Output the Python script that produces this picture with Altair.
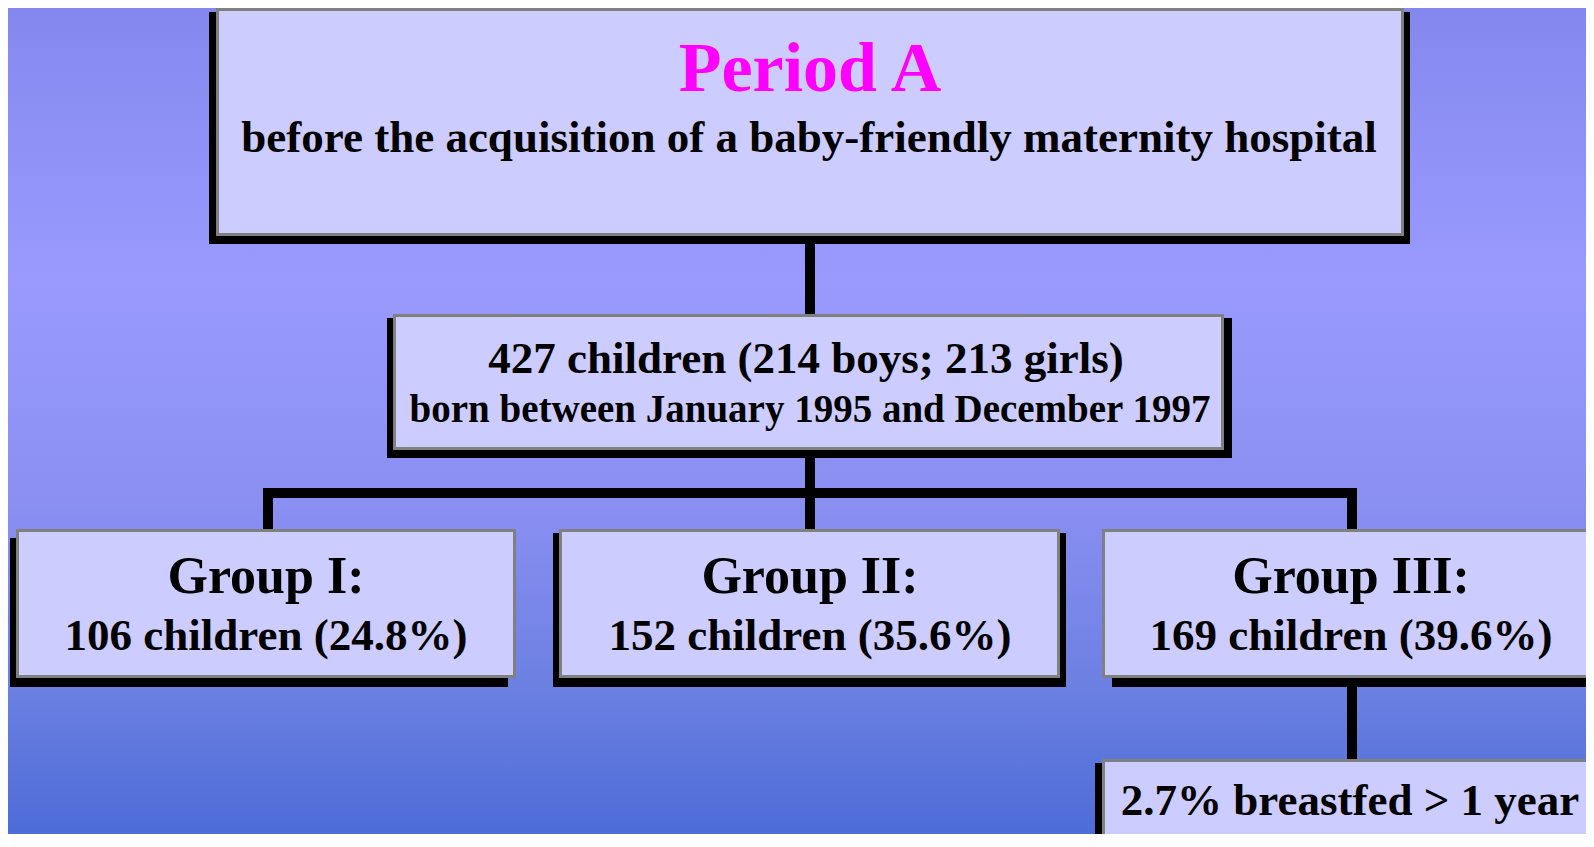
import altair as alt
import pandas as pd

# ---- content (values) ----
period_title = "Period A"
period_subtitle = "before the acquisition of a baby-friendly maternity hospital"
total_children = 427
boys = 214
girls = 213
born_from = "January 1995"
born_to = "December 1997"
group_names = ["Group I:", "Group II:", "Group III:"]
group_counts = [106, 152, 169]
group_pcts = [24.8, 35.6, 39.6]
breastfed_pct = 2.7

# ---- layout (image pixel space, 1594 x 847) ----
W, H = 1578, 826
box_x1 = [216, 393, 16, 559, 1102, 1102]
box_x2 = [1404, 1224, 516, 1060, 1602, 1602]
box_y1 = [8, 314, 529, 529, 529, 759]
box_y2 = [236, 450, 678, 678, 678, 860]
# shadow = box grown/shifted by these amounts
sh_dx1 = [-7, -6, -6, -6, 10, -7]
sh_dx2 = [6, 8, -8, 6, 8, -2]
sh_dy1 = [4, 4, 9, 4, 6, 4]
sh_dy2 = [8, 8, 9, 9, 9, 9]

boxes = pd.DataFrame({"x1": box_x1, "x2": box_x2, "y1": box_y1, "y2": box_y2})
boxes["bx1"] = boxes.x1 + 1.5
boxes["bx2"] = boxes.x2 - 1.5
boxes["by1"] = boxes.y1 + 1.5
boxes["by2"] = boxes.y2 - 1.5
shadows = pd.DataFrame({
    "x1": [a + b for a, b in zip(box_x1, sh_dx1)],
    "x2": [a + b for a, b in zip(box_x2, sh_dx2)],
    "y1": [a + b for a, b in zip(box_y1, sh_dy1)],
    "y2": [a + b for a, b in zip(box_y2, sh_dy2)],
})

conn_x1 = [805, 805, 263, 263, 1347, 1347]
conn_x2 = [815, 815, 1357, 273, 1357, 1357]
conn_y1 = [230, 445, 488, 488, 488, 680]
conn_y2 = [320, 533, 498, 533, 533, 762]
conns = pd.DataFrame({"x1": conn_x1, "x2": conn_x2, "y1": conn_y1, "y2": conn_y2})

texts = [period_title, period_subtitle,
         f"{total_children} children ({boys} boys; {girls} girls)",
         f"born between {born_from} and {born_to}"]
tx = [810, 809, 806, 810]
ty = [91, 152, 373, 422]
ts = [70, 45, 45, 39]
tc = ["#FF00FF", "#000000", "#000000", "#000000"]
gcx = [266, 810, 1351]
for i in range(3):
    texts += [group_names[i], f"{group_counts[i]} children ({group_pcts[i]}%)"]
    tx += [gcx[i], gcx[i]]
    ty += [593, 650]
    ts += [52, 45]
    tc += ["#000000", "#000000"]
texts.append(f"{breastfed_pct}% breastfed > 1 year")
tx.append(1350)
ty.append(815)
ts.append(45)
tc.append("#000000")
labels = pd.DataFrame({"text": texts, "x": tx, "y": ty, "size": ts, "color": tc})

xs = alt.Scale(domain=[8, 8 + W], nice=False, zero=False)
ys = alt.Scale(domain=[8, 8 + H], nice=False, zero=False, reverse=True)
X = lambda f: alt.X(f, type="quantitative", scale=xs, axis=None)
Y = lambda f: alt.Y(f, type="quantitative", scale=ys, axis=None)

grad = alt.LinearGradient(
    gradient="linear",
    x1=0, x2=0, y1=0, y2=1,
    stops=[
        alt.GradientStop(offset=0.0, color="#8488EE"),
        alt.GradientStop(offset=0.33, color="#9A9AFE"),
        alt.GradientStop(offset=0.6, color="#8A8FF2"),
        alt.GradientStop(offset=0.82, color="#6C80E2"),
        alt.GradientStop(offset=1.0, color="#4D6CD7"),
    ],
)

bg = alt.Chart(pd.DataFrame({"a": [0]})).mark_rect(fill=grad).encode(
    x=alt.value(0), x2=alt.value(W), y=alt.value(0), y2=alt.value(H)
)

shadow_layer = alt.Chart(shadows).mark_rect(fill="#000000", clip=True).encode(
    x=X("x1"), x2="x2", y=Y("y1"), y2="y2"
)
conn_layer = alt.Chart(conns).mark_rect(fill="#000000", clip=True).encode(
    x=X("x1"), x2="x2", y=Y("y1"), y2="y2"
)
box_layer = alt.Chart(boxes).mark_rect(
    fill="#CCCCFF", stroke="#808080", strokeWidth=3, clip=True
).encode(x=X("bx1"), x2="bx2", y=Y("by1"), y2="by2")

text_layer = alt.Chart(labels).mark_text(
    align="center", baseline="alphabetic", font="Liberation Serif", fontWeight="bold"
).encode(
    x=X("x"), y=Y("y"), text="text:N",
    size=alt.Size("size:Q", scale=None, legend=None),
    color=alt.Color("color:N", scale=None, legend=None),
)

chart = alt.layer(bg, shadow_layer, conn_layer, box_layer, text_layer).properties(
    width=W, height=H, padding=0, autosize=alt.AutoSizeParams(type="none")
).configure_view(stroke=None)

chart.save("out.html", embed_options={"renderer": "svg", "actions": False})
